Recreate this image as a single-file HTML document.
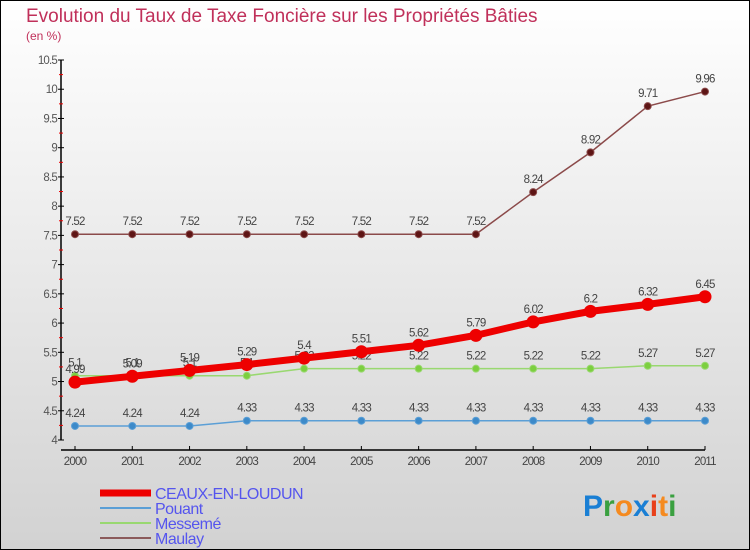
<!DOCTYPE html>
<html><head><meta charset="utf-8"><style>
body{margin:0;}
svg{display:block;font-family:"Liberation Sans",sans-serif;}
</style></head><body>
<svg width="750" height="550" viewBox="0 0 750 550" id="chart">
<defs><linearGradient id="bg" x1="0" y1="0" x2="0" y2="1"><stop offset="0" stop-color="#ffffff"/><stop offset="1" stop-color="#d2d2d2"/></linearGradient></defs>
<rect x="0.5" y="0.5" width="749" height="549" fill="url(#bg)" stroke="#000"/>
<text x="26" y="22" font-size="19" fill="#c0305a">Evolution du Taux de Taxe Foncière sur les Propriétés Bâties</text>
<text x="26" y="40" font-size="12" fill="#c0305a">(en %)</text>
<g id="axes"></g>
<g id="series"></g>
<g id="legend"></g>
<g font-size="30" font-weight="bold">
<text x="583" y="516"><tspan fill="#1a7fd4">P</tspan><tspan fill="#3aa040">r</tspan><tspan fill="#f58a1f">o</tspan><tspan fill="#1a7fd4">x</tspan><tspan fill="#e8401a">i</tspan><tspan fill="#f58a1f">t</tspan><tspan fill="#3aa040">i</tspan></text>
</g>
</svg>
<script>
const years=[2000,2001,2002,2003,2004,2005,2006,2007,2008,2009,2010,2011];
const ceaux=[4.99,5.09,5.19,5.29,5.4,5.51,5.62,5.79,6.02,6.2,6.32,6.45];
const pouant=[4.24,4.24,4.24,4.33,4.33,4.33,4.33,4.33,4.33,4.33,4.33,4.33];
const messeme=[5.1,5.1,5.1,5.1,5.22,5.22,5.22,5.22,5.22,5.22,5.27,5.27];
const maulay=[7.52,7.52,7.52,7.52,7.52,7.52,7.52,7.52,8.24,8.92,9.71,9.96];
const yTicks=[4,4.5,5,5.5,6,6.5,7,7.5,8,8.5,9,9.5,10,10.5];
const NS="http://www.w3.org/2000/svg";
function xS(i){return 75+i*(705-75)/(years.length-1);}
function yS(v){return 440-(v-4)*(380/6.5);}
function mk(tag,attrs,parent,txt){const e=document.createElementNS(NS,tag);for(const k in attrs)e.setAttribute(k,attrs[k]);if(txt!==undefined)e.textContent=txt;parent.appendChild(e);return e;}
const axes=document.getElementById('axes');
let a=mk('line',{x1:61,y1:yS(10.5),x2:61,y2:yS(4),stroke:'#000','stroke-width':1.5},axes);


yTicks.forEach(t=>{
  const y=yS(t);
  mk('line',{x1:58,y1:y,x2:64,y2:y,stroke:'#000'},axes);
  if(t>4) mk('line',{x1:59,y1:y+(380/26),x2:63,y2:y+(380/26),stroke:'#e00'},axes);
  const tl=mk('text',{x:57,y:y+4,'font-size':11.5,fill:'#555','text-anchor':'end','letter-spacing':'-0.8'},axes,String(t));
  
  
});
let xa=mk('line',{x1:61,y1:450,x2:705,y2:450,stroke:'#000','stroke-width':1.5},axes);


years.forEach((yr,i)=>{
  const x=xS(i);
  mk('line',{x1:x,y1:446,x2:x,y2:450,stroke:'#000'},axes);
  const tl=mk('text',{x:x,y:465,'font-size':11.5,fill:'#444','text-anchor':'middle','letter-spacing':'-0.8'},axes,String(yr));
  
  
});
const series=document.getElementById('series');
function draw(name,vals,color,w,r,dot){
  const g=mk('g',{},series);
  
  
  mk('polyline',{points:vals.map((v,i)=>xS(i)+','+yS(v)).join(' '),fill:'none',stroke:color,'stroke-width':w},g);
  vals.forEach((v,i)=>{
    const c=mk('circle',{cx:xS(i),cy:yS(v),r:r,fill:dot,stroke:color,'stroke-width':1},g);
    
    
    const t=mk('text',{x:xS(i),y:yS(v)-9,'font-size':11.5,fill:'#444','text-anchor':'middle','letter-spacing':'-0.8'},g,String(v));
    
    
  });
}
draw('pouant',pouant,'#5b9fd6',1.5,3.5,'#3d8ac9');
draw('messeme',messeme,'#99d870',1.5,3.5,'#7ccf3f');
draw('maulay',maulay,'#8b4a4a',1.5,3.5,'#5e1515');
draw('ceaux',ceaux,'#ee0000',7,6,'#ee0000');
const lg=document.getElementById('legend');
const leg=[['CEAUX-EN-LOUDUN','#ee0000',7],['Pouant','#5b9fd6',2],['Messemé','#99d870',2],['Maulay','#8b5a5a',2]];
leg.forEach((l,i)=>{
  const y=493+i*15;
  const e=mk('g',{},lg);
  
  
  mk('line',{x1:100,y1:y,x2:151,y2:y,stroke:l[1],'stroke-width':l[2]},e);
  mk('text',{x:155,y:y+6,'font-size':16,fill:'#5555ee','letter-spacing':'-0.5'},e,l[0]);
});
</script>
</body></html>
